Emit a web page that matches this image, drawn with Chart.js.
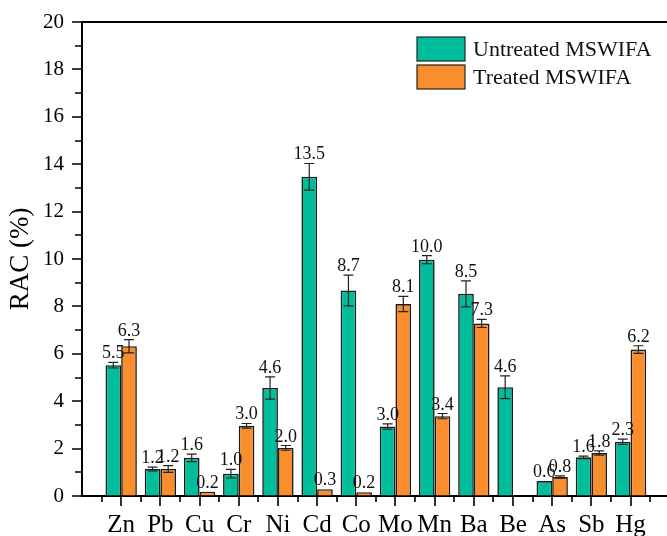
<!DOCTYPE html>
<html>
<head>
<meta charset="utf-8">
<script src="https://cdn.jsdelivr.net/npm/chart.js@4.4.1/dist/chart.umd.min.js"></script>
<style>
  html, body { margin: 0; padding: 0; background: #fff; }
  #wrap { width: 667px; height: 536px; position: relative; }
</style>
</head>
<body>
<div id="wrap"><canvas id="c" width="667" height="536"></canvas></div>
<script>
const categories = ['Zn','Pb','Cu','Cr','Ni','Cd','Co','Mo','Mn','Ba','Be','As','Sb','Hg'];
const untreated = [5.52,1.14,1.61,0.94,4.56,13.47,8.67,2.93,9.97,8.53,4.59,0.63,1.63,2.29];
const untreatedErr = [0.12,0.08,0.16,0.18,0.47,0.56,0.65,0.11,0.17,0.55,0.48,0,0.05,0.11];
const untreatedLabels = ['5.5','1.2','1.6','1.0','4.6','13.5','8.7','3.0','10.0','8.5','4.6','0.6','1.6','2.3'];
const treated = [6.32,1.14,0.18,2.96,2.03,0.29,0.16,8.10,3.37,7.28,null,0.80,1.81,6.18];
const treatedErr = [0.28,0.14,0,0.10,0.10,0,0,0.32,0.11,0.17,0,0.05,0.09,0.16];
const treatedLabels = ['6.3','1.2','0.2','3.0','2.0','0.3','0.2','8.1','3.4','7.3','','0.8','1.8','6.2'];
const seriesNames = ['Untreated MSWIFA','Treated MSWIFA'];
const yTickValues = [0,2,4,6,8,10,12,14,16,18,20];
const yMinorValues = [1,3,5,7,9,11,13,15,17,19];

const GREEN = 'rgb(0,190,155)';
const ORANGE = 'rgb(250,142,44)';
const SERIF = "'Liberation Serif', 'Times New Roman', serif";

const errs = [untreatedErr, treatedErr];
const vals = [untreated, treated];
const labs = [untreatedLabels, treatedLabels];
const colors = [GREEN, ORANGE];

const extras = {
  id: 'extras',
  afterDatasetsDraw(chart) {
    const ctx = chart.ctx, ys = chart.scales.y;
    ctx.save();
    for (let d = 0; d < 2; d++) {
      const meta = chart.getDatasetMeta(d);
      meta.data.forEach((el, j) => {
        const v = vals[d][j];
        if (v == null) return;
        const e = errs[d][j];
        const top = ys.getPixelForValue(v + e);
        const bot = ys.getPixelForValue(v - e);
        if (e > 0) {
          ctx.strokeStyle = '#222';
          ctx.lineWidth = 1.2;
          ctx.beginPath();
          ctx.moveTo(el.x, top); ctx.lineTo(el.x, bot);
          ctx.moveTo(el.x - 5, top); ctx.lineTo(el.x + 5, top);
          ctx.moveTo(el.x - 5, bot); ctx.lineTo(el.x + 5, bot);
          ctx.stroke();
        }
        const t = labs[d][j];
        if (t) {
          ctx.fillStyle = '#111';
          ctx.font = '18px ' + SERIF;
          ctx.textAlign = 'center';
          ctx.textBaseline = 'alphabetic';
          ctx.fillText(t, el.x, top - 4);
        }
      });
    }
    ctx.restore();
  },
  afterDraw(chart) {
    const ctx = chart.ctx, ca = chart.chartArea;
    const xs = chart.scales.x, ys = chart.scales.y;
    ctx.save();
    ctx.strokeStyle = '#000';
    ctx.lineWidth = 2;
    ctx.beginPath();
    ctx.moveTo(ca.left - 1, ca.top); ctx.lineTo(ca.right, ca.top);
    ctx.stroke();
    ctx.lineWidth = 1.6;
    ctx.beginPath();
    yTickValues.forEach(v => {
      const p = Math.round(ys.getPixelForValue(v));
      ctx.moveTo(ca.left - 10, p); ctx.lineTo(ca.left, p);
    });
    yMinorValues.forEach(v => {
      const p = Math.round(ys.getPixelForValue(v));
      ctx.moveTo(ca.left - 7, p); ctx.lineTo(ca.left, p);
    });
    categories.forEach((c, i) => {
      const p = Math.round(xs.getPixelForValue(i));
      ctx.moveTo(p, ca.bottom); ctx.lineTo(p, ca.bottom + 10);
      const m = Math.round(xs.getPixelForValue(i - 0.5));
      ctx.moveTo(m, ca.bottom); ctx.lineTo(m, ca.bottom + 6);
    });
    const mLast = Math.round(xs.getPixelForValue(categories.length - 0.5));
    ctx.moveTo(mLast, ca.bottom); ctx.lineTo(mLast, ca.bottom + 6);
    ctx.stroke();
    const lx = 417, ly = [37, 65];
    for (let d = 0; d < 2; d++) {
      ctx.fillStyle = colors[d];
      ctx.fillRect(lx, ly[d], 48, 24);
      ctx.lineWidth = 1.2;
      ctx.strokeStyle = '#222';
      ctx.strokeRect(lx, ly[d], 48, 24);
      ctx.fillStyle = '#111';
      ctx.font = '22px ' + SERIF;
      ctx.textAlign = 'left';
      ctx.textBaseline = 'middle';
      ctx.fillText(seriesNames[d], 473, ly[d] + 13);
    }
    ctx.restore();
  }
};

new Chart(document.getElementById('c'), {
  type: 'bar',
  data: {
    datasets: [
      { label: seriesNames[0], data: categories.map((c, i) => ({x: i, y: untreated[i]})),
        backgroundColor: GREEN, borderColor: '#1a1a1a', borderWidth: 1.6,
        barPercentage: 1, categoryPercentage: 0.8 },
      { label: seriesNames[1], data: categories.map((c, i) => ({x: i, y: treated[i]})),
        backgroundColor: ORANGE, borderColor: '#1a1a1a', borderWidth: 1.6,
        barPercentage: 1, categoryPercentage: 0.8 }
    ]
  },
  options: {
    responsive: false,
    animation: false,
    layout: { padding: { top: 22, right: 0, left: 0, bottom: 0 } },
    plugins: { legend: { display: false }, tooltip: { enabled: false } },
    scales: {
      x: {
        type: 'linear', min: -1, max: 13.93, offset: false,
        afterFit: s => { s.height = 40; },
        afterBuildTicks: s => { s.ticks = categories.map((c, i) => ({ value: i })); },
        grid: { color: 'transparent', drawOnChartArea: false, tickLength: 10, offset: false },
        border: { display: true, color: '#000', width: 2 },
        ticks: { autoSkip: false, maxRotation: 0, padding: 4, color: '#000',
          font: { family: SERIF, size: 25 },
          callback: v => (Number.isInteger(v) && v >= 0 && v < categories.length) ? categories[v] : '' }
      },
      y: {
        min: 0, max: 20,
        afterFit: s => { s.width = 82; },
        afterBuildTicks: s => { s.ticks = yTickValues.map(v => ({ value: v })); },
        grid: { color: 'transparent', drawOnChartArea: false, tickLength: 10 },
        border: { display: true, color: '#000', width: 2 },
        ticks: { padding: 8, color: '#000', font: { family: SERIF, size: 21 } },
        title: { display: true, text: 'RAC (%)', color: '#000',
          font: { family: SERIF, size: 27 }, padding: { top: 5, bottom: 0 } }
      }
    }
  },
  plugins: [extras]
});
</script>
</body>
</html>
